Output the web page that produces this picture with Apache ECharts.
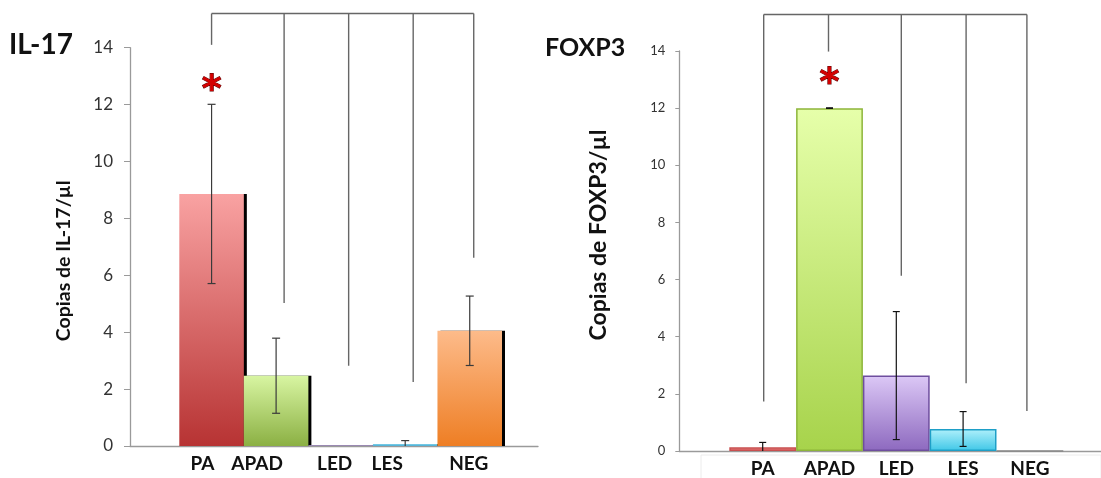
<!DOCTYPE html>
<html>
<head>
<meta charset="utf-8">
<script src="https://cdn.jsdelivr.net/npm/echarts@6/dist/echarts.min.js"></script>
<style>
  html, body { margin: 0; padding: 0; background: #fff; }
  #chart { width: 1101px; height: 478px; }
</style>
</head>
<body>
<div id="chart"></div>
<script>
// ---------------- data ----------------
const categories = ['PA', 'APAD', 'LED', 'LES', 'NEG'];
const yMin = 0, yMax = 14, yInterval = 2;

const il17Values = [8.86, 2.47, 0.03, 0.07, 4.05];
const il17Errors = [3.15, 1.32, 0, 0.12, 1.22];
const il17BracketTop = 15.2;
const il17BracketEnds = [14.1, 5.03, 2.82, 2.25, 6.62];
const il17SigIndex = 0;
const il17SigValue = 12.76;

const foxp3Values = [0.13, 12.0, 2.64, 0.77, 0];
const foxp3Errors = [0.17, 0.01, 2.24, 0.61, 0];
const foxp3BracketTop = 15.28;
const foxp3BracketEnds = [1.73, 13.98, 6.13, 2.37, 1.40];
const foxp3SigIndex = 1;
const foxp3SigValue = 13.13;

// ---------------- styles ----------------
const FONT = 'Lato, "Open Sans", sans-serif';
function vgrad(top, bottom) {
  return new echarts.graphic.LinearGradient(0, 0, 0, 1, [
    { offset: 0, color: top }, { offset: 1, color: bottom }
  ]);
}
const il17Colors = [
  vgrad('#F9A2A2', '#B73333'),
  vgrad('#D8F5A2', '#8BB043'),
  vgrad('#C8B4E4', '#A58CCB'),
  vgrad('#7FD0EA', '#48ACD2'),
  vgrad('#FDBB8A', '#EE7E24')
];
const foxp3Fill = [
  vgrad('#F08A8A', '#E06666'),
  vgrad('#E6FFAA', '#A7D34B'),
  vgrad('#DCC8F6', '#8D69BF'),
  vgrad('#B0F0FB', '#3FC7E7'),
  vgrad('#cccccc', '#aaaaaa')
];
const foxp3Border = ['#C85050', '#8DB53A', '#6E4E9E', '#1E9FC7', '#888'];
// label x offsets (px) for the IL-17 category labels
const il17LabelShift = [-9, -19, -6, -18, -1];
// bracket drop x offsets (px)
const il17DropShift = [0, 8, 8, 8, 4];
const foxp3DropShift = [1, -1, 5, 3, -3];

function labelRich(shifts) {
  const rich = {};
  shifts.forEach((s, i) => {
    rich['o' + i] = {
      fontFamily: FONT, fontWeight: 'bold', fontSize: 19, color: '#111',
      padding: s < 0 ? [0, -2 * s, 0, 0] : [0, 0, 0, 2 * s]
    };
  });
  return rich;
}

function errorSeries(values, errors, gridIdx, color, capHalf) {
  return {
    type: 'custom',
    xAxisIndex: gridIdx, yAxisIndex: gridIdx,
    z: 5,
    silent: true,
    data: values.map((v, i) => [i, v, errors[i]]),
    renderItem: function (params, api) {
      const i = api.value(0), v = api.value(1), e = api.value(2);
      if (!e) return null;
      const top = api.coord([i, v + e]);
      const bot = api.coord([i, Math.max(0, v - e)]);
      const st = { stroke: color, lineWidth: 1.2 };
      const ch = [
        { type: 'line', shape: { x1: top[0], y1: top[1], x2: bot[0], y2: bot[1] }, style: st },
        { type: 'line', shape: { x1: top[0] - capHalf, y1: top[1], x2: top[0] + capHalf, y2: top[1] }, style: st }
      ];
      if (v - e > 0) {
        ch.push({ type: 'line', shape: { x1: bot[0] - capHalf, y1: bot[1], x2: bot[0] + capHalf, y2: bot[1] }, style: st });
      }
      return { type: 'group', children: ch };
    }
  };
}

function bracketSeries(topVal, ends, shifts, gridIdx) {
  return {
    type: 'custom',
    xAxisIndex: gridIdx, yAxisIndex: gridIdx,
    clip: false, silent: true, z: 6,
    data: ends.map((e, i) => [i, e]),
    renderItem: function (params, api) {
      const i = api.value(0), e = api.value(1);
      const st = { stroke: '#666', lineWidth: 1.4 };
      const t = api.coord([i, topVal]);
      const b = api.coord([i, e]);
      const x = t[0] + shifts[i];
      const ch = [{ type: 'line', shape: { x1: x, y1: t[1], x2: x, y2: b[1] }, style: st }];
      if (i === 0) {
        const last = ends.length - 1;
        const tl = api.coord([last, topVal]);
        ch.push({ type: 'line', shape: { x1: x, y1: t[1], x2: tl[0] + shifts[last], y2: t[1] }, style: st });
      }
      return { type: 'group', children: ch };
    }
  };
}

function starSeries(idx, val, gridIdx) {
  return {
    type: 'custom',
    xAxisIndex: gridIdx, yAxisIndex: gridIdx,
    clip: false, silent: true, z: 7,
    data: [[idx, val]],
    renderItem: function (params, api) {
      const p = api.coord([api.value(0), api.value(1)]);
      return {
        type: 'text',
        x: p[0], y: p[1] + 8,
        style: {
          text: '*', fontFamily: '"DejaVu Sans", sans-serif', fontWeight: 'bold',
          fontSize: 38, fill: '#D40000', stroke: '#5a0000', lineWidth: 1,
          align: 'center', verticalAlign: 'middle'
        }
      };
    }
  };
}

const frameAxisLine = { show: true, lineStyle: { color: '#9a9a9a', width: 1.3 } };

const option = {
  animation: false,
  backgroundColor: '#ffffff',
  title: [
    { text: 'IL-17', left: 9, top: 31, padding: 0,
      textStyle: { fontFamily: FONT, fontWeight: 'bold', fontSize: 28, color: '#111' } },
    { text: 'FOXP3', left: 545, top: 35, padding: 0,
      textStyle: { fontFamily: FONT, fontWeight: 'bold', fontSize: 25, color: '#111' } }
  ],
  graphic: [
    { type: 'rect', shape: { x: 701, y: 455, width: 400, height: 30 },
      style: { fill: 'none', stroke: '#ececec', lineWidth: 1 }, z: 0 }
  ],
  grid: [
    { left: 130, top: 47.7, width: 408, height: 398.3 },      // IL-17 frame
    { left: 179.3, top: 47.7, width: 322.7, height: 398.3 },  // IL-17 bars
    { left: 679.3, top: 51, width: 421.7, height: 400 },      // FOXP3 frame
    { left: 729.3, top: 51, width: 334, height: 400 }         // FOXP3 bars
  ],
  xAxis: [
    { gridIndex: 0, type: 'value', min: 0, max: 1, axisLine: frameAxisLine,
      axisTick: { show: false }, axisLabel: { show: false }, splitLine: { show: false } },
    { gridIndex: 1, type: 'category', data: categories, axisLine: { show: false },
      axisTick: { show: false }, splitLine: { show: false },
      axisLabel: { interval: 0, margin: 8, formatter: (v, i) => '{o' + i + '|' + v + '}', rich: labelRich(il17LabelShift) } },
    { gridIndex: 2, type: 'value', min: 0, max: 1, axisLine: frameAxisLine,
      axisTick: { show: false }, axisLabel: { show: false }, splitLine: { show: false } },
    { gridIndex: 3, type: 'category', data: categories, axisLine: { show: false },
      axisTick: { show: false }, splitLine: { show: false },
      axisLabel: { interval: 0, margin: 8, fontFamily: FONT, fontWeight: 'bold', fontSize: 19, color: '#111' } }
  ],
  yAxis: [
    { gridIndex: 0, type: 'value', min: yMin, max: yMax, interval: yInterval,
      axisLine: frameAxisLine,
      axisTick: { show: true, length: 6, lineStyle: { color: '#9a9a9a' } },
      splitLine: { show: false },
      axisLabel: { margin: 17, fontFamily: FONT, fontSize: 17, color: '#333' },
      name: 'Copias de IL-17/µl', nameLocation: 'middle', nameGap: 56,
      nameTextStyle: { fontFamily: FONT, fontWeight: 'bold', fontSize: 19.5, color: '#111', padding: [0, 28, 0, 0] } },
    { gridIndex: 1, type: 'value', min: yMin, max: yMax, interval: yInterval, show: false, splitLine: { show: false } },
    { gridIndex: 2, type: 'value', min: yMin, max: yMax, interval: yInterval,
      axisLine: frameAxisLine,
      axisTick: { show: true, length: 4, lineStyle: { color: '#9a9a9a' } },
      splitLine: { show: false },
      axisLabel: { margin: 14, fontFamily: FONT, fontSize: 13, color: '#333' },
      name: 'Copias de FOXP3/µl', nameLocation: 'middle', nameGap: 69,
      nameTextStyle: { fontFamily: FONT, fontWeight: 'bold', fontSize: 23, color: '#111', padding: [0, 0, 0, 32] } },
    { gridIndex: 3, type: 'value', min: yMin, max: yMax, interval: yInterval, show: false, splitLine: { show: false } }
  ],
  series: [
    {
      type: 'bar', xAxisIndex: 1, yAxisIndex: 1, barCategoryGap: '0%', z: 3,
      data: il17Values.map((v, i) => ({
        value: v,
        itemStyle: { color: il17Colors[i], shadowColor: '#000', shadowOffsetX: 3, shadowOffsetY: 0, shadowBlur: 0 }
      }))
    },
    errorSeries(il17Values, il17Errors, 1, '#3a3a3a', 4),
    bracketSeries(il17BracketTop, il17BracketEnds, il17DropShift, 1),
    starSeries(il17SigIndex, il17SigValue, 1),
    {
      type: 'bar', xAxisIndex: 3, yAxisIndex: 3, barCategoryGap: '0%', z: 3,
      data: foxp3Values.map((v, i) => ({
        value: v,
        itemStyle: { color: foxp3Fill[i], borderColor: foxp3Border[i], borderWidth: 1.5 }
      }))
    },
    errorSeries(foxp3Values, foxp3Errors, 3, '#111', 3.5),
    bracketSeries(foxp3BracketTop, foxp3BracketEnds, foxp3DropShift, 3),
    starSeries(foxp3SigIndex, foxp3SigValue, 3)
  ]
};

const chart = echarts.init(document.getElementById('chart'), null, { renderer: 'canvas' });
chart.setOption(option);
</script>
</body>
</html>
